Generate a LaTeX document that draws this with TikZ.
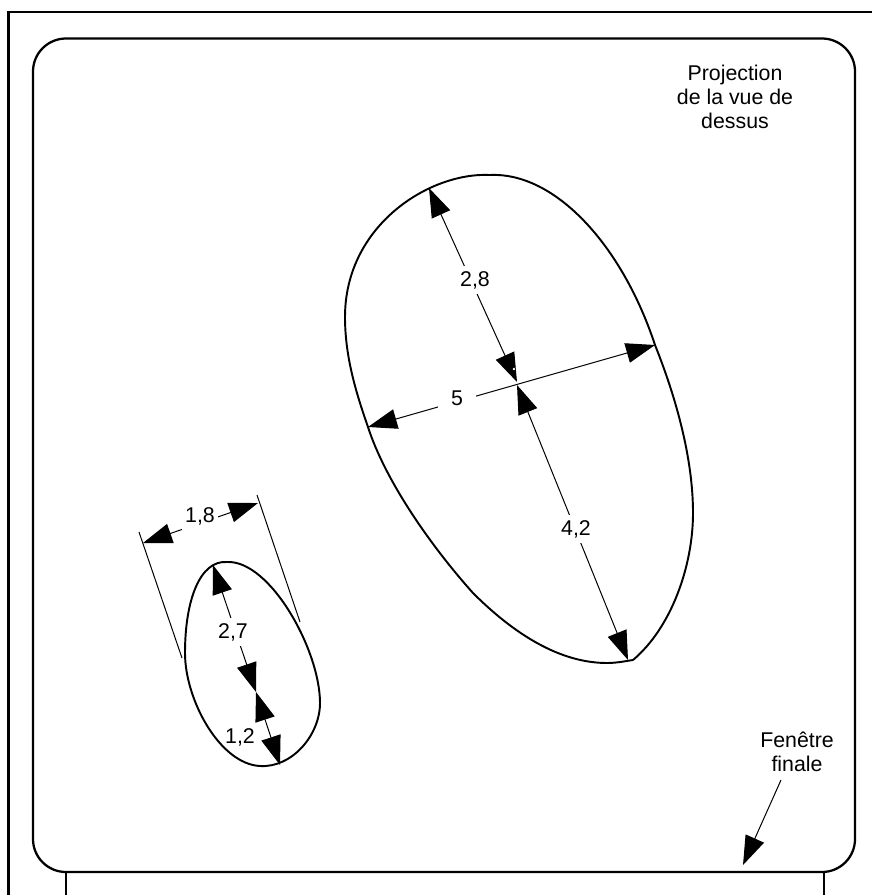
\documentclass[tikz,border=0pt]{standalone}
\usepackage{fontspec}
\setmainfont{Liberation Sans}
\usetikzlibrary{arrows.meta}
\tikzset{
  frameline/.style={line width=1.7pt,line join=miter},
  eggline/.style={line width=1.45pt,line join=round},
  thinline/.style={line width=.75pt},
  dimline/.style={line width=.75pt,{Triangle[length=21.75pt,width=15pt]}-{Triangle[length=21.75pt,width=15pt]}},
  leaderline/.style={line width=.75pt,-{Triangle[length=21.75pt,width=15pt]}},
  lab/.style={font=\fontsize{16pt}{18pt}\selectfont,align=center,inner sep=0pt},
  dimlab/.style={lab,fill=white,inner xsep=2.5pt,inner ysep=4.2pt},
}
\begin{document}
\begin{tikzpicture}[x=.75pt,y=-.75pt]
\useasboundingbox (0,0) rectangle (872,895);
% frames
\draw[frameline] (8.5,895) -- (8.5,12) -- (872,12);
\draw[frameline,rounded corners=24.75pt] (33,38.5) rectangle (855,872);
\draw[frameline] (66.3,872) -- (66.3,895);
\draw[frameline] (824.3,872) -- (824.3,895);
% eggs
\draw[eggline] (633,660)
  .. controls (672,627) and (693,565) .. (693,513)
  .. controls (693,460) and (677,400) .. (655,345)
  .. controls (622,245) and (555,172) .. (490,175)
  .. controls (430,172) and (345,225) .. (345,317)
  .. controls (345,355) and (355,390) .. (368,427)
  .. controls (385,480) and (430,545) .. (473,593)
  .. controls (520,640) and (565,663) .. (607,663)
  .. controls (617,663) and (626,661) .. (633,660);
\draw[eggline] (227,562)
  .. controls (200,560) and (185,600) .. (185,653)
  .. controls (185,700) and (220,764) .. (260,766)
  .. controls (292,768) and (320,735) .. (320,703)
  .. controls (320,650) and (270,560) .. (227,562) -- cycle;
% tips
\coordinate (a1) at (429,188);
\coordinate (a2) at (517,382);
\coordinate (b1) at (368,427);
\coordinate (b2) at (655,345);
\coordinate (c1) at (517,385);
\coordinate (c2) at (628,660);
\coordinate (d1) at (143,543);
\coordinate (d2) at (258,503);
\coordinate (e1) at (213,565);
\coordinate (e2) at (256,692);
\coordinate (f1) at (256,692);
\coordinate (f2) at (280,765);
\coordinate (g1) at (139,532);
\coordinate (g2) at (182,658);
\coordinate (h1) at (257,495);
\coordinate (h2) at (300,622);
\coordinate (i1) at (781,780);
\coordinate (i2) at (743,865);
% connectors
\draw[dimline] (a1) -- (a2);
\draw[dimline] (b1) -- (b2);
\draw[dimline] (c1) -- (c2);
\draw[dimline] (d1) -- (d2);
\draw[dimline] (e1) -- (e2);
\draw[dimline] (f1) -- (f2);
\draw[thinline] (g1) -- (g2);
\draw[thinline] (h1) -- (h2);
\draw[leaderline] (i1) -- (i2);
\fill[white] (514,369) circle (1pt);
% labels
\node[dimlab] (l28) at (475,280) {2,8};
\node[dimlab,minimum width=29pt] (l5) at (457,398) {5};
\node[dimlab] (l42) at (576,529) {4,2};
\node[dimlab] (l18) at (200,516) {1,8};
\node[dimlab] (l27) at (233,632) {2,7};
\node[lab] (l12) at (240,737) {1,2};
\node[lab] (proj) at (735,97) {Projection\\de la vue de\\dessus};
\node[lab] (fen) at (797,752) {Fenêtre\\finale};
\end{tikzpicture}
\end{document}
